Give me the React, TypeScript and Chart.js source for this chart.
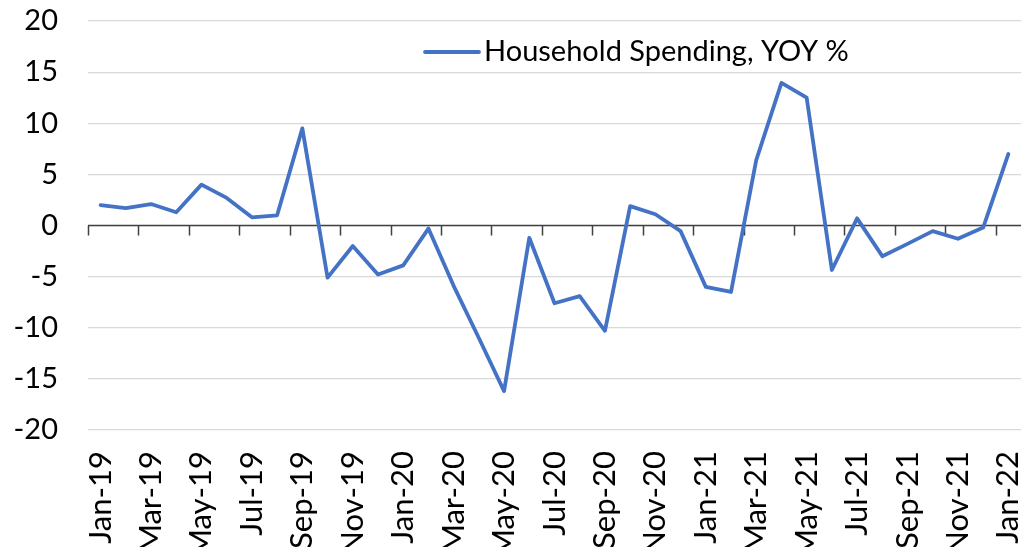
import React, { useEffect, useRef } from "react";
import { Chart, registerables } from "chart.js";

Chart.register(...registerables);

const months: string[] = [
  "Jan-19", "Feb-19", "Mar-19", "Apr-19", "May-19", "Jun-19", "Jul-19", "Aug-19", "Sep-19", "Oct-19", "Nov-19", "Dec-19",
  "Jan-20", "Feb-20", "Mar-20", "Apr-20", "May-20", "Jun-20", "Jul-20", "Aug-20", "Sep-20", "Oct-20", "Nov-20", "Dec-20",
  "Jan-21", "Feb-21", "Mar-21", "Apr-21", "May-21", "Jun-21", "Jul-21", "Aug-21", "Sep-21", "Oct-21", "Nov-21", "Dec-21",
  "Jan-22",
];

const spendingYoY: number[] = [
  2.0, 1.7, 2.1, 1.3, 4.0, 2.7, 0.8, 1.0, 9.5, -5.1, -2.0, -4.8,
  -3.9, -0.3, -5.9, -11.0, -16.2, -1.2, -7.6, -6.9, -10.3, 1.9, 1.1, -0.55,
  -6.0, -6.5, 6.4, 13.95, 12.5, -4.35, 0.7, -3.0, -1.8, -0.55, -1.3, -0.2,
  7.0,
];

const seriesLabel = "Household Spending, YOY %";

const yMin = -20;
const yMax = 20;
const yStep = 5;

const FONT_FAMILY = "Lato, 'Noto Sans', sans-serif";
const FONT_SIZE = 29;
const X_FONT_SIZE = 31;
const LINE_COLOR = "#4472C4";

const zeroAxisPlugin = {
  id: "zeroAxis",
  beforeDatasetsDraw(chart: any) {
    const { ctx, chartArea } = chart;
    const xs = chart.scales.x;
    const ys = chart.scales.y;
    const y0 = ys.getPixelForValue(0);
    const half = (xs.getPixelForValue(1) - xs.getPixelForValue(0)) / 2;
    ctx.save();
    ctx.strokeStyle = "#404040";
    ctx.lineWidth = 1.5;
    ctx.beginPath();
    ctx.moveTo(chartArea.left, y0);
    ctx.lineTo(chartArea.right, y0);
    xs.ticks.forEach((t: any) => {
      const px = Math.round(xs.getPixelForValue(t.value) - half) + 0.5;
      ctx.moveTo(px, y0);
      ctx.lineTo(px, y0 + 10);
    });
    ctx.stroke();
    ctx.restore();
  },
};

const insideLegendPlugin = {
  id: "insideLegend",
  afterDraw(chart: any) {
    const { ctx, chartArea } = chart;
    const ds = chart.data.datasets[0];
    const x0 = chartArea.left + 337;
    const y = chartArea.top + 31;
    ctx.save();
    ctx.strokeStyle = ds.borderColor;
    ctx.lineWidth = 3.8;
    ctx.lineCap = "round";
    ctx.beginPath();
    ctx.moveTo(x0, y);
    ctx.lineTo(x0 + 54, y);
    ctx.stroke();
    ctx.fillStyle = "#000";
    ctx.font = `${FONT_SIZE}px ${FONT_FAMILY}`;
    ctx.textBaseline = "middle";
    ctx.textAlign = "left";
    ctx.fillText(ds.label, x0 + 59, y);
    ctx.restore();
  },
};

export default function App() {
  const canvasRef = useRef<HTMLCanvasElement | null>(null);

  useEffect(() => {
    if (!canvasRef.current) return;
    const font = { family: FONT_FAMILY, size: FONT_SIZE };
    const chart = new Chart(canvasRef.current, {
      type: "line",
      data: {
        labels: months,
        datasets: [
          {
            label: seriesLabel,
            data: spendingYoY,
            borderColor: LINE_COLOR,
            backgroundColor: LINE_COLOR,
            borderWidth: 3.8,
            pointRadius: 0,
            borderJoinStyle: "round",
            borderCapStyle: "round",
            tension: 0,
          },
        ],
      },
      options: {
        responsive: false,
        animation: false,
        layout: { padding: { top: 21, right: 10, left: 0, bottom: 0 } },
        plugins: {
          legend: { display: false },
          tooltip: { enabled: false },
        },
        scales: {
          x: {
            type: "category",
            offset: true,
            grid: { display: false, drawTicks: false },
            border: { display: false },
            ticks: {
              autoSkip: true,
              maxTicksLimit: 19,
              minRotation: 90,
              maxRotation: 90,
              padding: 21,
              color: "#000",
              font: { family: FONT_FAMILY, size: X_FONT_SIZE },
            },
            afterFit: (s: any) => {
              s.height = 117;
              s.paddingLeft = 0;
              s.paddingRight = 0;
              s.paddingTop = 0;
              s.paddingBottom = 0;
            },
          },
          y: {
            min: yMin,
            max: yMax,
            ticks: { stepSize: yStep, padding: 30, color: "#000", font },
            grid: { color: "#D9D9D9", lineWidth: 1.2, drawTicks: false },
            border: { display: false },
            afterFit: (s: any) => {
              s.width = 88;
              s.paddingLeft = 0;
              s.paddingRight = 0;
              s.paddingTop = 0;
              s.paddingBottom = 0;
            },
          },
        },
      },
      plugins: [zeroAxisPlugin, insideLegendPlugin],
    });
    return () => chart.destroy();
  }, []);

  return (
    <div style={{ position: "absolute", left: 0, top: 0, width: 1031, height: 547, overflow: "hidden", background: "#fff" }}>
      <canvas ref={canvasRef} width={1031} height={547} style={{ display: "block" }} />
    </div>
  );
}
